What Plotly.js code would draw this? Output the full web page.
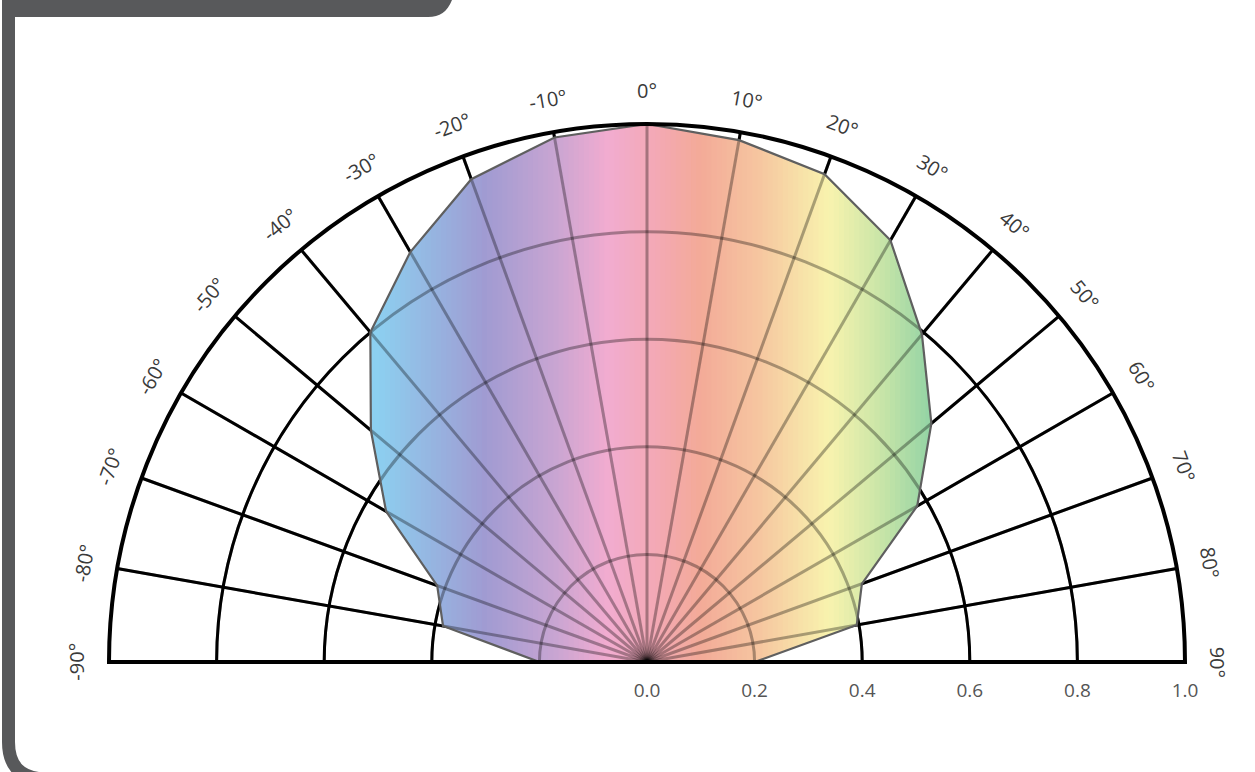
<!DOCTYPE html>
<html><head><meta charset="utf-8">
<script src="https://cdn.plot.ly/plotly-3.0.1.min.js"></script>
<style>html,body{margin:0;padding:0;background:#fff;overflow:hidden}</style>
</head><body><div id="chart" style="width:1255px;height:772px"></div>
<script>
// ---- data ----
const angles = [-90, -80, -70, -60, -50, -40, -30, -20, -10, 0, 10, 20, 30, 40, 50, 60, 70, 80, 90];
const intensity = [0.20, 0.385, 0.415, 0.56, 0.67, 0.80, 0.88, 0.955, 0.99, 1.00, 0.985, 0.965, 0.905, 0.795, 0.69, 0.58, 0.425, 0.396, 0.20];
const angleTicks = [-90, -80, -70, -60, -50, -40, -30, -20, -10, 0, 10, 20, 30, 40, 50, 60, 70, 80, 90];
const angleTickLabels = ['-90°', '-80°', '-70°', '-60°', '-50°', '-40°', '-30°', '-20°', '-10°', '0°', '10°', '20°', '30°', '40°', '50°', '60°', '70°', '80°', '90°'];
const radialTicks = [0, 0.2, 0.4, 0.6, 0.8, 1.0];
const radialTickLabels = ['0.0', '0.2', '0.4', '0.6', '0.8', '1.0'];

// ---- style: horizontal colour gradient of the fill ----
const gradPos = [-0.50, -0.30, -0.17, -0.07, 0.02, 0.10, 0.21, 0.34, 0.43, 0.53];
const gradCol = ['#8cd0f0', '#a09bd2', '#c8a5d2', '#f2acd0', '#f3a9b4', '#f3aa98', '#f6c6a0', '#f8f3ae', '#cce6a8', '#92d3a5'];

// ---- layout geometry ----
const W = 1255, H = 772;
const cxPx = 647, cyPx = 662, Rpx = 538;
const dom = {
  x: [(cxPx - Rpx) / W, (cxPx + Rpx) / W],
  y: [(H - cyPx) / H, (H - cyPx + Rpx) / H]
};
const labelR = Rpx * 1.062;

// ---- helpers ----
function hexRgb(h) { return [parseInt(h.substr(1, 2), 16), parseInt(h.substr(3, 2), 16), parseInt(h.substr(5, 2), 16)]; }
function colorAt(x) {
  if (x <= gradPos[0]) return gradCol[0];
  for (let i = 0; i < gradPos.length - 1; i++) {
    if (x <= gradPos[i + 1]) {
      const t = (x - gradPos[i]) / (gradPos[i + 1] - gradPos[i]);
      const a = hexRgb(gradCol[i]), b = hexRgb(gradCol[i + 1]);
      return 'rgb(' + a.map((v, k) => Math.round(v + t * (b[k] - v))).join(',') + ')';
    }
  }
  return gradCol[gradCol.length - 1];
}
function clipHalf(poly, x0, sign) {
  const out = [];
  for (let i = 0; i < poly.length; i++) {
    const A = poly[i], B = poly[(i + 1) % poly.length];
    const da = sign * (A[0] - x0), db = sign * (B[0] - x0);
    if (da >= 0) out.push(A);
    if ((da >= 0) !== (db >= 0)) {
      const t = da / (da - db);
      out.push([A[0] + t * (B[0] - A[0]), A[1] + t * (B[1] - A[1])]);
    }
  }
  return out;
}

// shape polygon in unit plane (x = r sin θ, y = r cos θ), split into vertical strips
const poly = angles.map((t, i) => [intensity[i] * Math.sin(t * Math.PI / 180), intensity[i] * Math.cos(t * Math.PI / 180)]);
const xs = poly.map(p => p[0]);
const xMin = Math.min(...xs), xMax = Math.max(...xs);
const nStrips = 110, ov = 0.0012;
const traces = [];
for (let s = 0; s < nStrips; s++) {
  const xa = xMin + (xMax - xMin) * s / nStrips, xb = xMin + (xMax - xMin) * (s + 1) / nStrips;
  let p = clipHalf(poly, xa - ov, 1);
  p = clipHalf(p, xb + ov, -1);
  if (p.length < 3) continue;
  traces.push({
    type: 'scatterpolar', subplot: 'polar',
    r: p.map(q => Math.hypot(q[0], q[1])),
    theta: p.map(q => Math.atan2(q[0], q[1]) * 180 / Math.PI),
    mode: 'none', fill: 'toself', fillcolor: colorAt((xa + xb) / 2),
    hoverinfo: 'skip', showlegend: false
  });
}
// outline on the upper subplot
traces.push({
  type: 'scatterpolar', subplot: 'polar2',
  r: intensity, theta: angles,
  mode: 'lines', fill: 'none',
  line: {color: '#5f5f5f', width: 2.2},
  hoverinfo: 'skip', showlegend: false
});

const annotations = angleTicks.map((t, i) => {
  const a = t * Math.PI / 180;
  return {
    xref: 'paper', yref: 'paper',
    x: (cxPx + labelR * Math.sin(a)) / W,
    y: (H - cyPx + labelR * Math.cos(a)) / H,
    text: angleTickLabels[i], showarrow: false, textangle: t,
    xanchor: 'center', yanchor: 'middle',
    font: {family: 'Open Sans, sans-serif', size: 20, color: '#3a3a3a'}
  };
});

const px = (x) => x / W, py = (y) => 1 - y / H;
const shapes = [
  {type: 'path', xref: 'paper', yref: 'paper', layer: 'above',
   path: `M ${px(0)},${py(0)} L ${px(452)},${py(0)} C ${px(447)},${py(12)} ${px(440)},${py(17)} ${px(428)},${py(17)} L ${px(15)},${py(17)} L ${px(15)},${py(740)} L ${px(2)},${py(740)} L ${px(2)},${py(0)} Z`,
   fillcolor: '#58595b', line: {width: 0}},
  {type: 'path', xref: 'paper', yref: 'paper', layer: 'above',
   path: `M ${px(8.5)},${py(700)} L ${px(8.5)},${py(742)} Q ${px(8.5)},${py(778)} ${px(45)},${py(779)}`,
   line: {color: '#58595b', width: 13}}
];

const gridAxes = (gridColor, showLines) => ({
  angularaxis: {
    rotation: 90, direction: 'clockwise', thetaunit: 'degrees',
    tickmode: 'array', tickvals: angleTicks,
    showticklabels: false, ticks: '',
    showgrid: true, gridcolor: gridColor, gridwidth: 3,
    showline: showLines, linecolor: '#000000', linewidth: 4
  },
  radialaxis: {
    range: [0, 1], angle: 0, side: 'clockwise',
    tickmode: 'array', tickvals: radialTicks, ticktext: radialTickLabels,
    showticklabels: !showLines, ticks: showLines ? '' : 'outside', ticklen: 12, tickcolor: 'rgba(0,0,0,0)',
    tickfont: {family: 'Open Sans, sans-serif', size: 19, color: '#555555'},
    showgrid: true, gridcolor: gridColor, gridwidth: 3,
    showline: false
  }
});

const layout = {
  width: W, height: H,
  margin: {l: 0, r: 0, t: 0, b: 0},
  paper_bgcolor: '#ffffff',
  showlegend: false,
  polar: Object.assign({domain: dom, sector: [0, 180], bgcolor: '#ffffff'}, gridAxes('#000000', false)),
  polar2: Object.assign({domain: dom, sector: [0, 180], bgcolor: 'rgba(0,0,0,0)'}, gridAxes('rgba(0,0,0,0.32)', true)),
  annotations: annotations,
  shapes: shapes
};

Plotly.newPlot('chart', traces, layout, {displayModeBar: false, staticPlot: true});
</script>
</body></html>
